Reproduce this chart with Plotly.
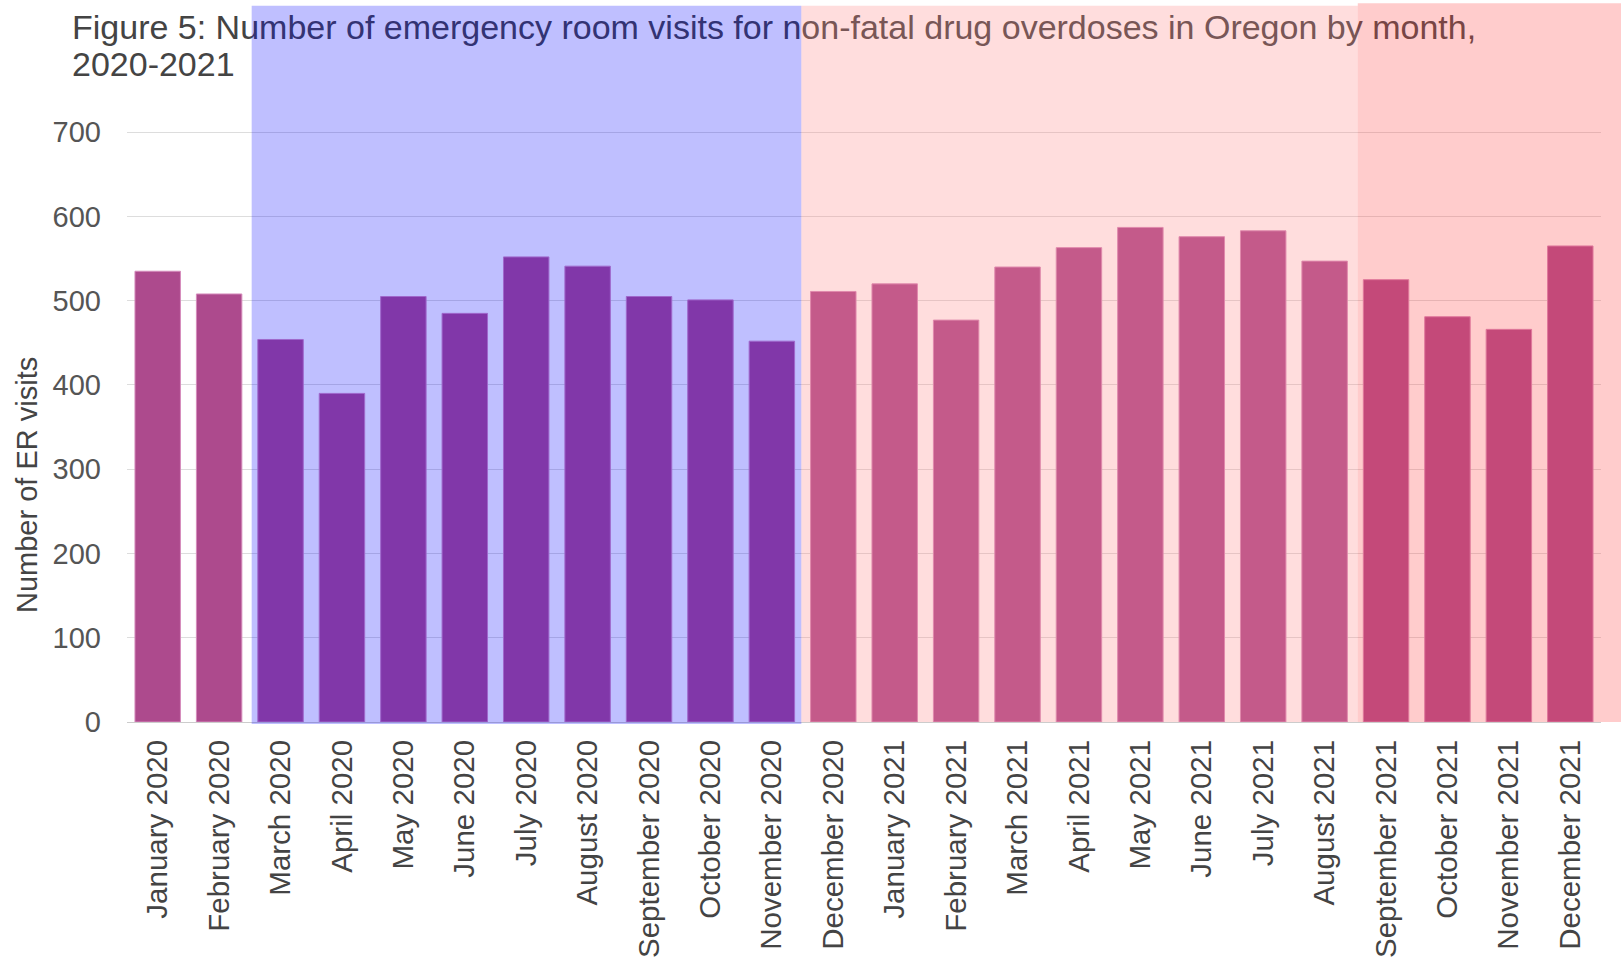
import plotly.graph_objects as go

# Monthly ER visits for non-fatal drug overdoses, Oregon
months = [
    "January 2020", "February 2020", "March 2020", "April 2020", "May 2020",
    "June 2020", "July 2020", "August 2020", "September 2020", "October 2020",
    "November 2020", "December 2020", "January 2021", "February 2021",
    "March 2021", "April 2021", "May 2021", "June 2021", "July 2021",
    "August 2021", "September 2021", "October 2021", "November 2021",
    "December 2021",
]
er_visits = [
    535, 508, 454, 390, 505, 485, 552, 541, 505, 501, 452, 511,
    520, 477, 540, 563, 587, 576, 583, 547, 525, 481, 466, 565,
]

y_ticks = [0, 100, 200, 300, 400, 500, 600, 700]

title_lines = [
    "Figure 5: Number of emergency room visits for non-fatal drug overdoses in Oregon by month,",
    "2020-2021",
]
y_title = "Number of ER visits"

# Shaded periods, given as edges on the category axis (category index units)
band_edges = [1.53, 10.48, 19.54]
band_colors = [
    "rgba(0,0,255,0.25)",
    "rgba(255,133,133,0.28)",
    "rgba(255,72,72,0.28)",
]

FONT = "Liberation Sans, Arial, Helvetica, sans-serif"
W, H = 1621, 958
L, R, T, B = 127, 20, 128, 236
plot_w = W - L - R
plot_h = H - T - B
Y_MAX = 705


def dom(pos):
    """Category-axis position -> fraction of the x domain."""
    return (pos + 0.5) / len(months)


def px_x(px):
    """Pixel column -> paper x."""
    return (px - L) / plot_w


def px_y(px):
    """Pixel row -> paper y."""
    return (H - B - px) / plot_h


fig = go.Figure(
    go.Bar(
        x=months,
        y=er_visits,
        marker=dict(color="#ad4a8d", line=dict(color="#d58bbb", width=1)),
        hoverinfo="x+y",
    )
)

shapes = []
# Title text carried by label-only shapes so the tint bands sit on top of it
for line_text, base_px in zip(title_lines, [36, 73]):
    y = px_y(base_px - 12)
    shapes.append(dict(
        type="line", xref="paper", yref="paper",
        x0=px_x(72), x1=px_x(73), y0=y, y1=y,
        line=dict(width=0, color="rgba(0,0,0,0)"),
        layer="above",
        label=dict(
            text=line_text, textposition="start", textangle=0,
            xanchor="left", yanchor="middle", padding=0,
            font=dict(family=FONT, size=34, color="#444444"),
        ),
    ))

# Tinted period bands
band_x = [dom(e) for e in band_edges] + [(W - L) / plot_w]
band_bottom = [px_y(724), 0, 0]
band_top = [px_y(5.7), px_y(5.7), px_y(3.3)]
for i, col in enumerate(band_colors):
    shapes.append(dict(
        type="rect", xref="x domain", yref="paper",
        x0=band_x[i], x1=band_x[i + 1],
        y0=band_bottom[i], y1=band_top[i],
        fillcolor=col, line=dict(width=0), layer="above",
    ))

fig.update_layout(
    width=W, height=H, autosize=False,
    margin=dict(l=L, r=R, t=T, b=B, pad=0, autoexpand=False),
    paper_bgcolor="white", plot_bgcolor="white",
    font=dict(family=FONT, color="#4d4d4d"),
    bargap=0.26,
    showlegend=False,
    shapes=shapes,
    annotations=[dict(
        text=y_title, textangle=-90, showarrow=False,
        xref="paper", yref="paper",
        x=px_x(27), y=px_y(485), xanchor="center", yanchor="middle",
        font=dict(family=FONT, size=29, color="#444444"),
    )],
)

fig.update_xaxes(
    type="category", categoryorder="array", categoryarray=months,
    tickangle=-90, tickfont=dict(size=29.5, color="#444444"),
    showgrid=False, showline=False, ticks="", ticklabelstandoff=11,
    automargin=False,
)
fig.update_yaxes(
    range=[0, Y_MAX], tickvals=y_ticks,
    tickfont=dict(size=29, color="#555555"),
    showgrid=True, gridcolor="#dddddd", gridwidth=1,
    zeroline=True, zerolinecolor="#cccccc", zerolinewidth=1,
    showline=False, ticks="", ticklabelstandoff=25,
    automargin=False,
)

fig.write_html("out.html")
